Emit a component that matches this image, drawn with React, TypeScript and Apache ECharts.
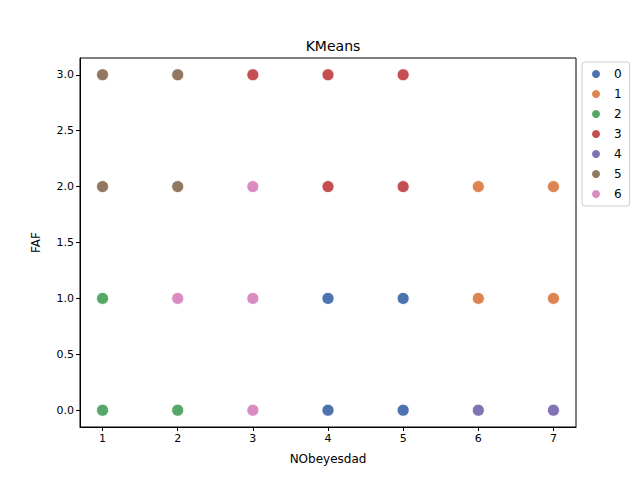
import { useEffect, useRef } from 'react';
import * as echarts from 'echarts';

const clusters = ['0', '1', '2', '3', '4', '5', '6'];
const colors = ['#4c72b0', '#dd8452', '#55a868', '#c44e52', '#8172b3', '#937860', '#da8bc3'];
// [NObeyesdad, FAF] per cluster
const points: number[][][] = [
  [[4, 1], [4, 0], [5, 1], [5, 0]],
  [[6, 2], [6, 1], [7, 2], [7, 1]],
  [[1, 1], [1, 0], [2, 0]],
  [[3, 3], [4, 3], [4, 2], [5, 3], [5, 2]],
  [[6, 0], [7, 0]],
  [[1, 3], [1, 2], [2, 3], [2, 2]],
  [[2, 1], [3, 2], [3, 1], [3, 0]],
];
const xTicks = [1, 2, 3, 4, 5, 6, 7];
const yTicks = [0, 0.5, 1, 1.5, 2, 2.5, 3];

export default function App() {
  const ref = useRef<HTMLDivElement>(null);

  useEffect(() => {
    if (!ref.current) return;
    const chart = echarts.init(ref.current, undefined, { renderer: 'svg' });
    const font = 'DejaVu Sans';
    chart.setOption({
      animation: false,
      textStyle: { fontFamily: font },
      title: {
        text: 'KMeans', left: 328, top: 34, textAlign: 'center',
        textStyle: { fontSize: 14, fontWeight: 'normal', color: '#000', fontFamily: font },
      },
      grid: { left: 80, right: 64, top: 58, bottom: 53, show: true, borderColor: '#000', borderWidth: 1 },
      legend: {
        orient: 'vertical', left: 582, top: 62, itemGap: 8, itemWidth: 10, itemHeight: 10,
        borderColor: '#ccc', borderWidth: 1, borderRadius: 3, padding: [6, 8, 6, 8],
        icon: 'circle', textStyle: { fontSize: 12, color: '#000', fontFamily: font, padding: [0, 0, 0, 8] },
        data: clusters,
      },
      xAxis: {
        type: 'value', min: 0.7, max: 7.3, name: 'NObeyesdad', nameLocation: 'middle', nameGap: 26,
        nameTextStyle: { fontSize: 12, color: '#000' },
        splitLine: { show: false },
        axisLine: { onZero: false, lineStyle: { color: '#000' } },
        axisTick: { customValues: xTicks, length: 4, lineStyle: { color: '#000' } },
        axisLabel: { customValues: xTicks, fontSize: 11, color: '#000', margin: 6 },
      },
      yAxis: {
        type: 'value', min: -0.15, max: 3.15, name: 'FAF', nameLocation: 'middle', nameGap: 38,
        nameTextStyle: { fontSize: 12, color: '#000' },
        splitLine: { show: false },
        axisLine: { show: true, onZero: false, lineStyle: { color: '#000' } },
        axisTick: { show: true, customValues: yTicks, length: 4, lineStyle: { color: '#000' } },
        axisLabel: { customValues: yTicks, fontSize: 11, color: '#000', margin: 6, formatter: (v: number) => v.toFixed(1) },
      },
      series: clusters.map((c, i) => ({
        name: c, type: 'scatter', data: points[i], symbolSize: 12,
        itemStyle: { color: colors[i], borderColor: '#fff', borderWidth: 0.8, opacity: 1 },
      })),
    });
    return () => chart.dispose();
  }, []);

  return <div ref={ref} style={{ width: 640, height: 480, margin: -8 }} />;
}
